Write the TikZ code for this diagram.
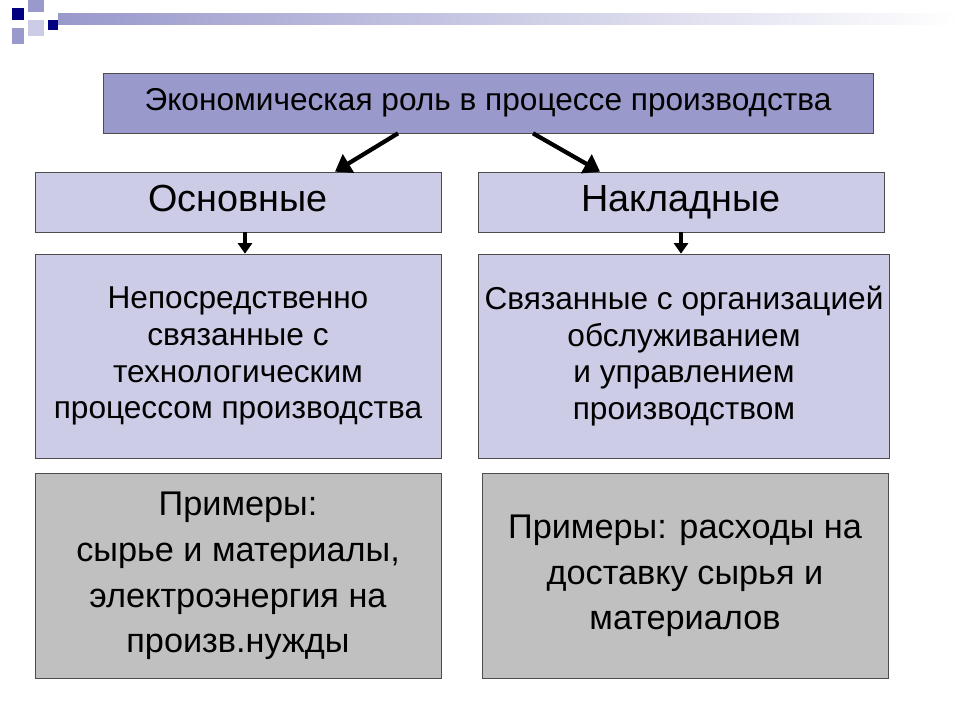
\documentclass[tikz,border=0pt]{standalone}
\usepackage{fontspec}
\setmainfont{Liberation Sans}
\usetikzlibrary{positioning,arrows.meta}
\definecolor{hdr}{RGB}{153,153,204}
\definecolor{lav}{RGB}{204,204,230}
\definecolor{gry}{RGB}{192,192,192}
\definecolor{navy}{RGB}{0,0,128}
\tikzset{
  boxa/.style={draw=black!70,fill=lav,minimum width=8.12cm,minimum height=1.2cm,text height=15.5pt,text depth=4.5pt,font=\fontsize{21.5}{24}\selectfont},
  boxb/.style={draw=black!70,fill=lav,minimum width=8.12cm,minimum height=4.08cm,align=center,font=\fontsize{18}{21}\selectfont},
  boxc/.style={draw=black!70,fill=gry,minimum width=8.12cm,minimum height=4.1cm,align=center,font=\fontsize{19.5}{26}\selectfont},
  bigarrow/.style={line width=2.4pt,-{Triangle[length=9pt,width=12pt]}},
  smallarrow/.style={line width=2pt,-{Triangle[length=6pt,width=8pt]}}
}
\begin{document}
\begin{tikzpicture}[x=0.02cm,y=-0.02cm]
\useasboundingbox (0,0) rectangle (960,720);
% slide decoration
\fill[navy] (12,8) rectangle (24,20);
\fill[hdr] (28,0) rectangle (44,12);
\fill[hdr] (12,28) rectangle (24,44);
\fill[lav] (28,20) rectangle (44,36);
\fill[navy] (48,20) rectangle (58,30);
\shade[left color=hdr,right color=white] (58,13) rectangle (960,24);
% boxes
\node[draw=black!70,fill=hdr,minimum width=15.4cm,minimum height=1.2cm,font=\fontsize{18}{21}\selectfont] (top) at (488,103) {Экономическая роль в процессе производства};
\node[boxa] (osn) at (238,202) {Основные};
\node[boxa] (nakl) at (681,202) {Накладные};
\node[boxb] (osnb) at (238,356) {Непосредственно\\связанные с\\технологическим\\процессом производства};
\node[boxb] (naklb) at (684,356) {Связанные с организацией\\обслуживанием\\и управлением\\производством};
\node[boxc] (osnc) at (238,576) {Примеры:\\сырье и материалы,\\электроэнергия на\\произв.нужды};
\node[boxc] (naklc) at (685,576) {Примеры: расходы на\\доставку сырья и\\материалов};
% arrows
\draw[bigarrow] ([xshift=-1.8cm]top.south) -- ([xshift=1.94cm]osn.north);
\draw[bigarrow] ([xshift=0.9cm]top.south) -- ([xshift=-1.62cm]nakl.north);
\draw[smallarrow] ([xshift=0.14cm]osn.south) -- ([xshift=0.14cm]osnb.north);
\draw[smallarrow] (nakl.south) -- (nakl.south |- naklb.north);
\end{tikzpicture}
\end{document}
